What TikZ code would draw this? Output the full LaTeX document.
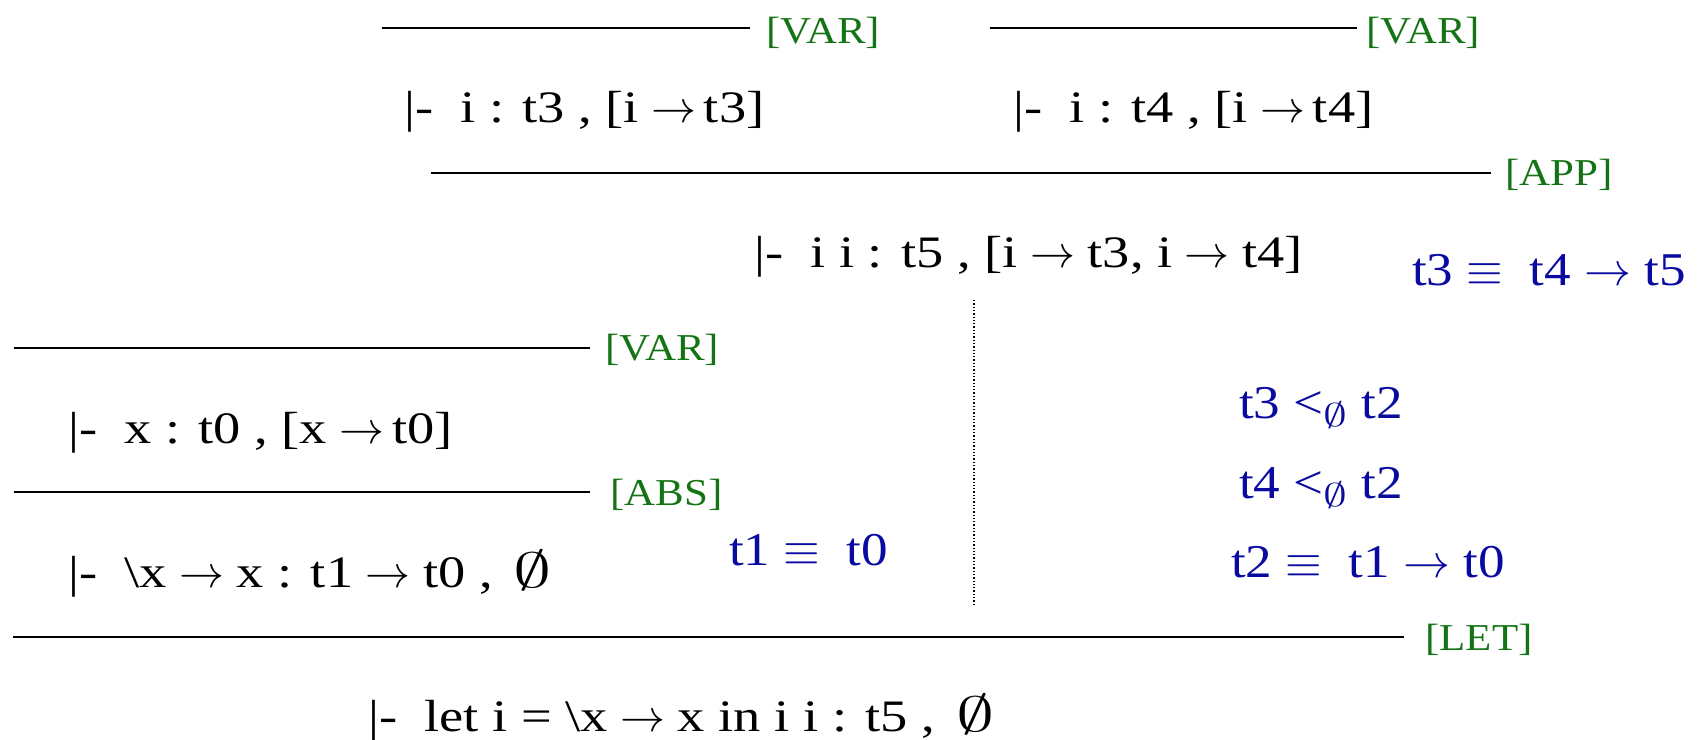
\RequirePackage{fix-cm}
\documentclass[tikz,border=0pt]{standalone}
\usepackage{fontspec}
\usepackage{graphicx}
\usepackage{xcolor}
\setmainfont{Liberation Serif}[FakeStretch=1.13]
\newfontfamily\judgfont{Liberation Serif}[FakeStretch=1.21]
\definecolor{rulegreen}{RGB}{20,115,20}
\definecolor{consblue}{RGB}{10,10,160}
\newcommand\tto{\ensuremath{\rightarrow}}
\newcommand\eqv{\ensuremath{\equiv}}
\newcommand\emp{\scalebox{1.45}[1]{$\emptyset$}}
\newcommand\bigemp{\,\scalebox{1.7}[1.1]{$\emptyset$}}
\tikzset{
  bar/.style={line width=2.6pt},
  judg/.style={anchor=base west, inner sep=0pt, font=\judgfont\fontsize{45}{50}\selectfont},
  rname/.style={anchor=base west, inner sep=0pt, text=rulegreen, font=\fontsize{38}{42}\selectfont},
  cons/.style={anchor=base west, inner sep=0pt, text=consblue, font=\fontsize{47}{52}\selectfont},
}

\begin{document}
\begin{tikzpicture}[x=1pt, y=-1pt]
\useasboundingbox (0,0) rectangle (1697,739);

% i : t3 and i : t4
\draw[bar] (382,28) -- (750,28) node[rname] at (765,43) {[VAR]};
\node[judg] (vi3) at (404,122) {|-\ \ i : t3 , [i\;\tto\,t3]};
\draw[bar] (990,28) -- (1357,28) node[rname] at (1365,43) {[VAR]};
\node[judg] (vi4) at (1013,122) {|-\ \ i : t4 , [i\;\tto\,t4]};

% application
\draw[bar] (431,173) -- (1491,173) node[rname] at (1504,185) {[APP]};
\node[judg] (app) at (754,267) {|-\ \ i i : t5 , [i\;\tto\;t3, i\;\tto\;t4]};
\node[cons] (c1) at (1412,285) {t3 \eqv\ \ t4 \tto\ t5};

% x : t0 and abstraction
\draw[bar] (14,348) -- (590,348) node[rname] at (604,360) {[VAR]};
\node[judg] (vx) at (68,443) {|-\ \ x : t0 , [x\;\tto\,t0]};
\draw[bar] (14,492) -- (590,492) node[rname] at (609,505) {[ABS]};
\node[judg] (abs) at (68,587) {|-\ \ \textbackslash x\;\tto\;x : t1\;\tto\;t0 , \bigemp};
\node[cons] (c2) at (729,565) {t1 \eqv\ \ t0};

% separator
\draw[line width=1.3pt, dotted] (974,300) -- (974,604);
\node[cons] (c3) at (1239,418) {t3 <\textsubscript{\emp} t2};
\node[cons] (c4) at (1239,498) {t4 <\textsubscript{\emp} t2};
\node[cons] (c5) at (1231,577) {t2 \eqv\ \ t1 \tto\ t0};

% let
\draw[bar] (13,637) -- (1404,637) node[rname] at (1424,650) {[LET]};
\node[judg] (let) at (368,731) {|-\ \ let i = \textbackslash x\;\tto\;x in i i : t5 , \bigemp};
\end{tikzpicture}
\end{document}
